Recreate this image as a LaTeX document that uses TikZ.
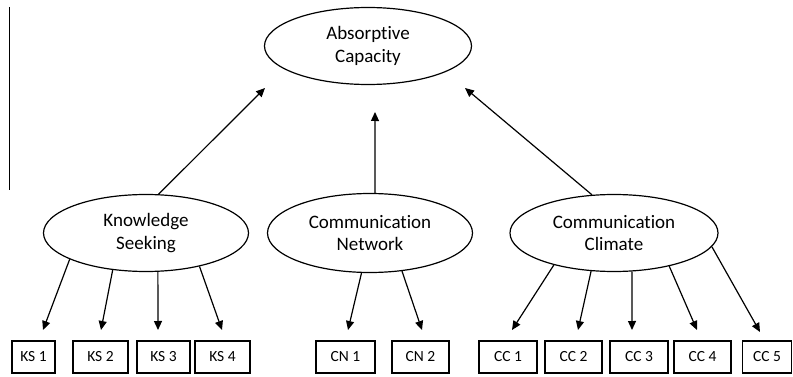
\documentclass[tikz,border=0pt]{standalone}
\usepackage{fontspec}
\setmainfont[Ligatures={NoCommon}]{Carlito}
\usetikzlibrary{shapes.geometric,arrows.meta}
\begin{document}
\begin{tikzpicture}[x=1pt,y=-1pt,
  latent/.style={draw,ellipse,line width=1.2pt,inner sep=0pt,align=center,font=\fontsize{19}{22.5}\selectfont},
  indicator/.style={draw,rectangle,line width=1.2pt,inner sep=0pt,minimum height=32pt,font=\fontsize{15.5}{18}\selectfont},
  arr/.style={line width=1.2pt,-{Triangle[length=9pt,width=8pt]}}]
\useasboundingbox (0,0) rectangle (793,377);
\draw[line width=0.9pt] (9,7) coordinate (vl1) -- (9,190) coordinate (vl2);
% latent nodes
\node[latent,minimum width=207pt,minimum height=77pt] (AC) at (368,46) {Absorptive\\Capacity};
\node[latent,minimum width=205pt,minimum height=77pt] (KS) at (146,233) {Knowledge\\Seeking};
\node[latent,minimum width=205pt,minimum height=79pt] (CN) at (370,233) {Communication\\Network};
\node[latent,minimum width=208pt,minimum height=77pt] (CC) at (614,233) {Communication\\Climate};
% indicators
\node[indicator,minimum width=43pt] (KS1) at (33.5,357) {KS 1};
\node[indicator,minimum width=55pt] (KS2) at (100.5,357) {KS 2};
\node[indicator,minimum width=53pt] (KS3) at (163.5,357) {KS 3};
\node[indicator,minimum width=55pt] (KS4) at (222.5,357) {KS 4};
\node[indicator,minimum width=59pt] (CN1) at (345.5,357) {CN 1};
\node[indicator,minimum width=57pt] (CN2) at (420.5,357) {CN 2};
\node[indicator,minimum width=58pt] (CC1) at (508,357) {CC 1};
\node[indicator,minimum width=57pt] (CC2) at (573.5,357) {CC 2};
\node[indicator,minimum width=58pt] (CC3) at (639,357) {CC 3};
\node[indicator,minimum width=57pt] (CC4) at (702.5,357) {CC 4};
\node[indicator,minimum width=49pt] (CC5) at (767,357) {CC 5};
% free arrow ends
\coordinate (t1) at (265,88);
\coordinate (t2) at (375,112);
\coordinate (t3) at (465,88);
\coordinate (eKS1) at (43,330);
\coordinate (eKS2) at (101,330);
\coordinate (eKS3) at (158,330);
\coordinate (eKS4) at (222,330);
\coordinate (eCN1) at (348,330);
\coordinate (eCN2) at (422,330);
\coordinate (eCC1) at (512,330);
\coordinate (eCC2) at (578,330);
\coordinate (eCC3) at (632,330);
\coordinate (eCC4) at (697,330);
\coordinate (eCC5) at (760,332);
% structural arrows
\draw[arr] (KS.72.5) -- (t1);
\draw[arr] (CN.83) -- (t2);
\draw[arr] (CC.120) -- (t3);
% measurement arrows
\draw[arr] (KS.199) -- (eKS1);
\draw[arr] (KS.228) -- (eKS2);
\draw[arr] (KS.287) -- (eKS3);
\draw[arr] (KS.328) -- (eKS4);
\draw[arr] (CN.258) -- (eCN1);
\draw[arr] (CN.310) -- (eCN2);
\draw[arr] (CC.208) -- (eCC1);
\draw[arr] (CC.239.5) -- (eCC2);
\draw[arr] (CC.295) -- (eCC3);
\draw[arr] (CC.329) -- (eCC4);
\draw[arr] (CC.352) -- (eCC5);
\end{tikzpicture}
\end{document}
